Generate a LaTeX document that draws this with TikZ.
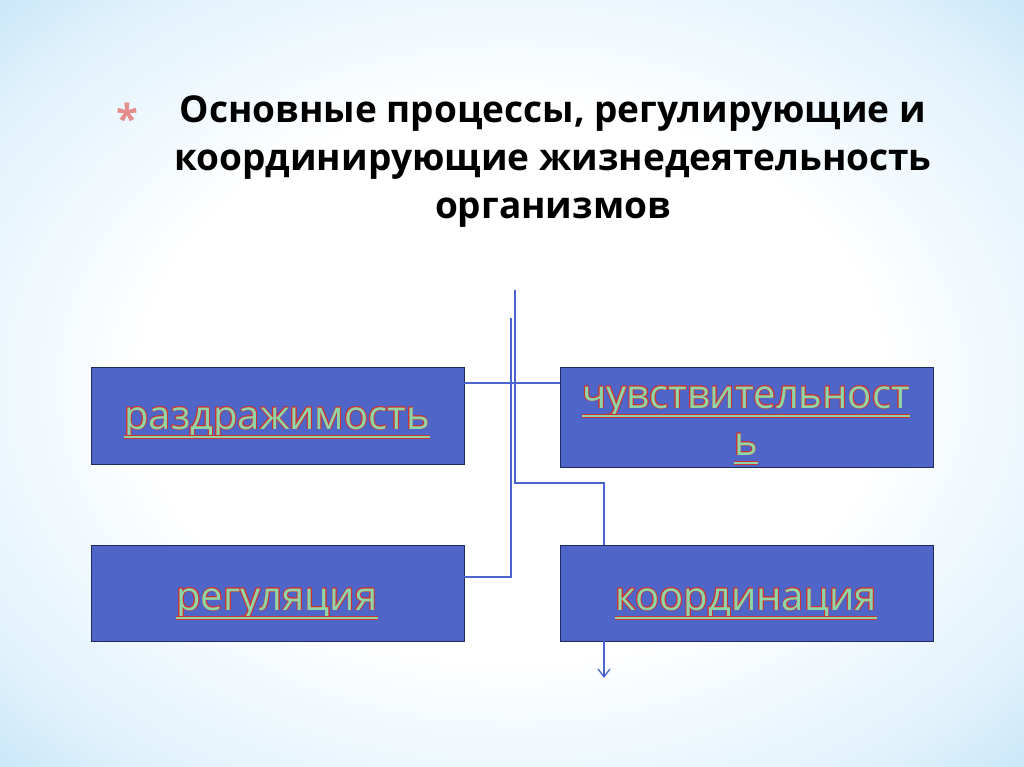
\documentclass[tikz,border=0pt]{standalone}
\usepackage{fontspec}
\setmainfont{Open Sans}
\usetikzlibrary{arrows.meta}
\definecolor{boxfill}{HTML}{4F66C8}
\definecolor{boxline}{HTML}{1F2A60}
\definecolor{lnk}{HTML}{4A63D0}
\definecolor{txtg}{HTML}{8ED6A8}
\definecolor{txtr}{HTML}{D03030}
\definecolor{bgblue}{HTML}{8ACBF2}
\pgfdeclareradialshading{bgshade}{\pgfpoint{0bp}{0bp}}{color(0bp)=(white); color(18bp)=(white); color(30bp)=(bgblue!25!white); color(42bp)=(bgblue!70!white); color(52bp)=(bgblue); color(75bp)=(bgblue)}
\newcommand{\otext}[3]{%
  \foreach \dx/\dy in {0.8/0,-0.8/0,0/0.8,0/-0.8,0.6/0.6,-0.6/-0.6,0.6/-0.6,-0.6/0.6}
    \node[lbl,text=txtr] at ([xshift=\dx pt,yshift=\dy pt]#1) {#3};
  \node[lbl,text=txtg] (#2) at (#1) {#3};
  \draw[txtr,line width=3.4pt] ([yshift=-8pt]#2.base west) -- ([yshift=-8pt]#2.base east);
  \draw[txtg,line width=1.6pt] ([yshift=-8pt]#2.base west) -- ([yshift=-8pt]#2.base east);
}
\tikzset{
  boxst/.style={draw=boxline,fill=boxfill,line width=1pt,inner sep=0},
  lbl/.style={inner sep=0,anchor=base,font=\fontsize{40}{44}\selectfont},
  link/.style={draw=lnk,line width=1.3pt},
  titlest/.style={font=\bfseries\fontsize{37}{48}\selectfont,align=center}
}
\begin{document}
\begin{tikzpicture}[x=1pt,y=-1pt]
\useasboundingbox (0,0) rectangle (1024,767);
\shade[shading=bgshade] (0,0) rectangle (1024,767);
% title
\node[text=txtr!55!white,font=\bfseries\fontsize{40}{40}\selectfont] (star) at (127,118) {*};
\node[titlest,anchor=north] (title) at (553,92) {Основные процессы, регулирующие и\\координирующие жизнедеятельность\\организмов};
% boxes
\draw[boxst] (91,367) rectangle (464,464);
\draw[boxst] (560,367) rectangle (933,467);
\draw[boxst] (91,545) rectangle (464,641);
\draw[boxst] (560,545) rectangle (933,641);
\coordinate (razc) at (277,429);
\coordinate (chuvc) at (746,408);
\coordinate (chuvd) at (746,455);
\coordinate (regc) at (277,610);
\coordinate (koordc) at (746,610);
\otext{razc}{raz}{раздражимость}
\otext{chuvc}{chuv}{чувствительност}
\otext{chuvd}{chuvb}{ь}
\otext{regc}{reg}{регуляция}
\otext{koordc}{koord}{координация}
% connectors
\coordinate (topA) at (515,290);
\coordinate (topB) at (511,318);
\coordinate (endA) at (604,678);
\draw[link] (464,383) -- (560,383);
\draw[link] (topA) -- (515,483) -- (604,483) -- (604,545);
\draw[link,-{Straight Barb[length=8pt,width=12pt]}] (604,641) -- (endA);
\draw[link] (topB) -- (511,577) -- (464,577);
\end{tikzpicture}
\end{document}
